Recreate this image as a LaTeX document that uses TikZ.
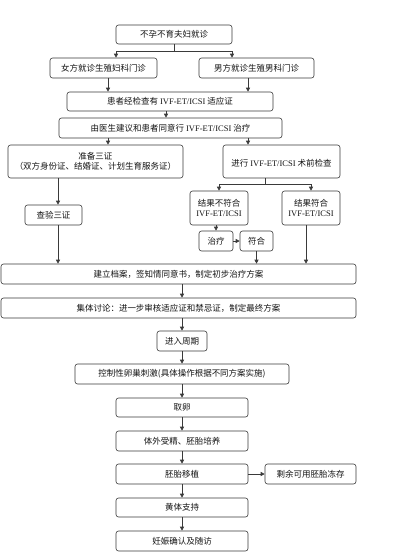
\documentclass[tikz,border=0pt]{standalone}
\usepackage{fontspec}
\setmainfont{Liberation Serif}
\newfontfamily\cjk{Noto Sans CJK SC}
\usetikzlibrary{arrows.meta, positioning, calc}
\definecolor{fline}{HTML}{3A3A3A}
\definecolor{ftext}{HTML}{141414}
\tikzset{
  box/.style={rectangle, rounded corners=2.5pt, draw=fline, fill=white, text=ftext,
              line width=0.6pt, inner sep=1pt, align=center, font=\cjk\fontsize{8.5}{10}\selectfont},
  flow/.style={-{Triangle[length=4pt, width=4pt]}, draw=fline, line width=0.6pt},
  link/.style={draw=fline, line width=0.6pt}
}
\newcommand{\ivf}{{\rmfamily IVF-ET/ICSI}}

\begin{document}
\begin{tikzpicture}[x=1pt, y=-1pt]
  \useasboundingbox (0,0) rectangle (400,552);
  \node[box, minimum width=116pt, minimum height=19pt] (couple) at (174,34.5) {不孕不育夫妇就诊};
  \node[box, minimum width=107pt, minimum height=20pt] (female) at (103.5,68) {女方就诊生殖妇科门诊};
  \node[box, minimum width=115pt, minimum height=20pt] (male) at (256.5,68) {男方就诊生殖男科门诊};
  \node[box, minimum width=206pt, minimum height=19pt] (indic) at (170,101.5) {患者经检查有 \ivf\ 适应证};
  \node[box, minimum width=223pt, minimum height=20pt] (agree) at (170.5,128) {由医生建议和患者同意行 \ivf\ 治疗};
  \node[box, minimum width=175pt, minimum height=33pt] (certs) at (95.5,161.5) {准备三证\\（双方身份证、结婚证、计划生育服务证）};
  \node[box, minimum width=117pt, minimum height=33pt] (precheck) at (281.5,161.5) {\mbox{}\\进行 \ivf\ 术前检查};
  \node[box, minimum width=57pt, minimum height=20pt] (verify) at (53.5,215) {查验三证};
  \node[box, minimum width=58pt, minimum height=34pt] (unfit) at (219,208) {结果不符合\\\ivf};
  \node[box, minimum width=58pt, minimum height=34pt] (fit) at (311,208) {结果符合\\\ivf};
  \node[box, minimum width=34pt, minimum height=20pt] (treat) at (216,241) {治疗};
  \node[box, minimum width=33pt, minimum height=20pt] (cured) at (256.5,241) {符合};
  \node[box, minimum width=355pt, minimum height=20pt] (record) at (178.5,274) {建立档案，签知情同意书，制定初步治疗方案};
  \node[box, minimum width=355pt, minimum height=20pt] (panel) at (178.5,308) {集体讨论：进一步审核适应证和禁忌证，制定最终方案};
  \node[box, minimum width=50pt, minimum height=20pt] (cycle) at (182,341) {进入周期};
  \node[box, minimum width=214pt, minimum height=20pt] (cos) at (182,374) {控制性卵巢刺激(具体操作根据不同方案实施)};
  \node[box, minimum width=132pt, minimum height=19pt] (retrieve) at (182,407.5) {取卵};
  \node[box, minimum width=132pt, minimum height=20pt] (culture) at (182,441) {体外受精、胚胎培养};
  \node[box, minimum width=132pt, minimum height=20pt] (transfer) at (182,474) {胚胎移植};
  \node[box, minimum width=91pt, minimum height=20pt] (freeze) at (310.5,474) {剩余可用胚胎冻存};
  \node[box, minimum width=132pt, minimum height=19pt] (luteal) at (182,507.5) {黄体支持};
  \node[box, minimum width=132pt, minimum height=20pt] (preg) at (182,541) {妊娠确认及随访};
  % first split
  \coordinate (split1) at (174,51);
  \coordinate (split1l) at (116,51);
  \coordinate (split1r) at (232,51);
  \draw[link] (couple) -- (split1);
  \draw[link] (split1l) -- (split1r);
  \draw[flow] (split1l) -- (split1l |- female.north);
  \draw[flow] (split1r) -- (split1r |- male.north);
  \draw[flow] ([xshift=4.5pt]female.south) -- ([xshift=4.5pt]female.south |- indic.north);
  \draw[flow] ([xshift=-8.5pt]male.south) -- ([xshift=-8.5pt]male.south |- indic.north);
  \draw[flow] ([xshift=-4pt]indic.south) -- ([xshift=-4pt]indic.south |- agree.north);
  \draw[flow] ([xshift=-62.5pt]agree.south) -- ([xshift=-62.5pt]agree.south |- certs.north);
  \draw[flow] ([xshift=77.5pt]agree.south) -- ([xshift=77.5pt]agree.south |- precheck.north);
  \draw[flow] ([xshift=-37.5pt]certs.south) -- ([xshift=-37.5pt]certs.south |- verify.north);
  \draw[flow] ([xshift=4.5pt]verify.south) -- ([xshift=4.5pt]verify.south |- record.north);
  % pre-check results
  \coordinate (split2) at (265,184);
  \draw[link] (split2 |- precheck.south) -- (split2);
  \draw[flow] (split2) -| (unfit);
  \draw[flow] (split2) -| (fit);
  \draw[flow] (treat.north |- unfit.south) -- (treat);
  \draw[flow] (treat) -- (cured);
  \draw[flow] (cured) -- (cured |- record.north);
  \draw[flow] ([xshift=-5pt]fit.south) -- ([xshift=-5pt]fit.south |- record.north);
  % main chain
  \draw[flow] (cycle |- record.south) -- (cycle |- panel.north);
  \draw[flow] (cycle |- panel.south) -- (cycle);
  \draw[flow] (cycle) -- (cos);
  \draw[flow] (cos) -- (retrieve);
  \draw[flow] (retrieve) -- (culture);
  \draw[flow] (culture) -- (transfer);
  \draw[flow] (transfer) -- (freeze);
  \draw[flow] (transfer) -- (luteal);
  \draw[flow] (luteal) -- (preg);
\end{tikzpicture}
\end{document}
